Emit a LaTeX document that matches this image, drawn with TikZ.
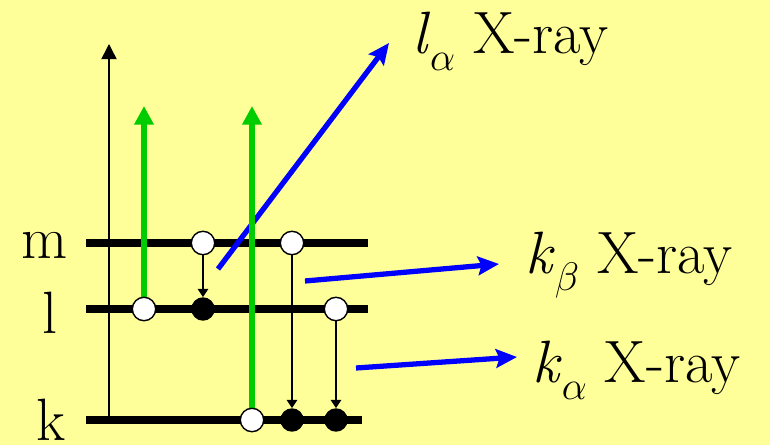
\RequirePackage{fix-cm}
\documentclass[tikz,border=0pt]{standalone}
\usepackage{fontspec}
\usetikzlibrary{arrows.meta,positioning}
\definecolor{paper}{HTML}{FFFF99}
\definecolor{pump}{HTML}{00CC00}
\definecolor{ray}{HTML}{0000FF}
\pgfdeclarelayer{back}
\pgfsetlayers{back,main}
\newcommand\sublbl[1]{\raisebox{-15pt}{\fontsize{34}{34}\selectfont$#1$}}
\tikzset{
  level/.style={line width=6pt},
  hole/.style={circle, draw, fill=white, line width=1.2pt, minimum size=20pt, inner sep=0pt},
  elec/.style={circle, fill=black, minimum size=20pt, inner sep=0pt},
  axis/.style={line width=1.3pt, -{Triangle[length=13pt, width=13pt]}},
  up/.style={pump, line width=5pt, -{Triangle[length=16pt, width=16pt]}},
  fall/.style={line width=1.2pt, -{Triangle[length=7pt, width=9pt]}},
  xray/.style={ray, line width=4.5pt, -{Stealth[length=18pt, width=16pt, inset=3pt]}},
  lbl/.style={font=\fontsize{51}{60}\selectfont, inner sep=0pt, anchor=base}
}
\begin{document}
\begin{tikzpicture}[x=0.03cm, y=-0.03cm]
% electrons and holes
\node[hole] (m1) at (203,243) {};
\node[hole] (m2) at (292,243) {};
\node[hole] (l1) at (144,309) {};
\node[elec] (l2) at (203,309) {};
\node[hole] (l3) at (336,309) {};
\node[hole] (k1) at (252,420) {};
\node[elec] (k2) at (292,420) {};
\node[elec] (k3) at (336,420) {};
% shell names
\node[lbl] (nm) at (45,258) {m};
\node[lbl] (nl) at (50,333) {l};
\node[lbl] (nk) at (51,440) {k};
% ray names
\node[lbl, anchor=base west] (tla) at (412,53) {\textit{l}\sublbl{\alpha} X-ray};
\node[lbl, anchor=base west] (tkb) at (525,273) {\textit{k}\sublbl{\beta} X-ray};
\node[lbl, anchor=base west] (tka) at (532,382) {\textit{k}\sublbl{\alpha} X-ray};
\coordinate (a0) at (109,420);
\coordinate (a1) at (109,44);
\coordinate (p1) at (144,106);
\coordinate (p2) at (252,106);
\coordinate (la0) at (218,269);
\coordinate (la1) at (389,43);
\coordinate (kb0) at (305,281);
\coordinate (kb1) at (499,264);
\coordinate (ka0) at (356,368);
\coordinate (ka1) at (517,357);
\begin{pgfonlayer}{back}
\path[fill=paper, use as bounding box] (0,0) rectangle (770,445);
\draw[axis] (a0) -- (a1);
\draw[level] (86,243) -- (368,243);
\draw[level] (86,309) -- (368,309);
\draw[level] (86,420) -- (362,420);
\draw[xray] (la0) -- (la1);
\draw[xray] (kb0) -- (kb1);
\draw[xray] (ka0) -- (ka1);
\draw[up] (l1.center) -- (p1);
\draw[up] (k1.center) -- (p2);
\foreach \s/\t in {m1/l2,m2/k2,l3/k3} \draw[fall] (\s) -- (\t);
\end{pgfonlayer}
\end{tikzpicture}
\end{document}
